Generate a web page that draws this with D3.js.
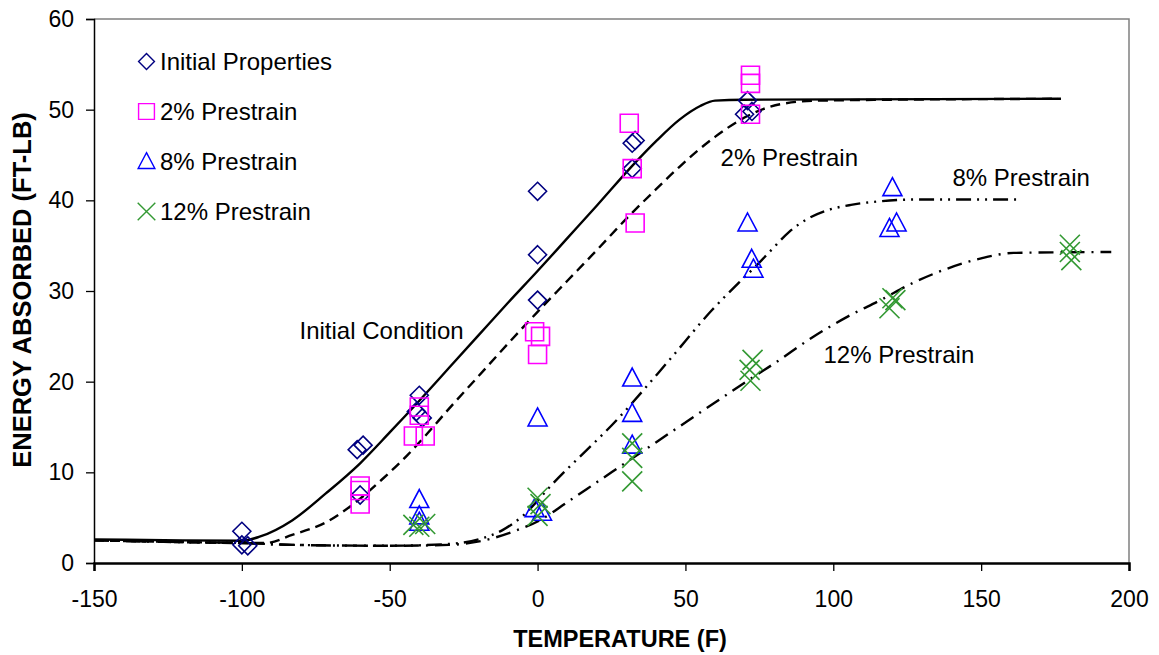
<!DOCTYPE html>
<html>
<head>
<meta charset="utf-8">
<script src="https://cdn.jsdelivr.net/npm/d3@7"></script>
<style>
  body { margin: 0; background: #fff; }
  text { font-family: Arial, "Liberation Sans", sans-serif; }
</style>
</head>
<body>
<div id="plot"></div>
<script>
// measured points, [temperature F, energy ft-lb]
const initialPts = [[-100,3.5],[-100,2.0],[-98,1.9],[-61,12.5],[-59,13.0],[-60,7.5],
  [-40,18.5],[-41,16.7],[-39,16.0],[0,41],[0,34],[0,29],[32,46.3],[33,46.6],[32,43.5],
  [71,51],[70,49.5],[72.5,49.8]];
const pre2Pts = [[-60,8.5],[-60,8.0],[-60,6.5],[-40,17.2],[-40,16.3],[-42,14],[-38,14],
  [-1,25.5],[1,25],[0,23],[31,48.5],[32,43.5],[33,37.5],[72,53.8],[72,52.9],[72,49.5]];
const pre8Pts = [[-40,7],[-40,5.2],[-40,4.5],[0,16],[-1,6],[1.5,5.6],[32,20.4],[32,16.5],
  [32,13],[71,37.5],[72.4,33.5],[73,32.4],[120,41.4],[121.4,37.5],[119,36.9]];
const pre12Pts = [[-42,4.2],[-40,4.0],[-38,4.3],[0,7.2],[1,6.5],[0,5.2],[32,13.2],[32,11.6],
  [32,9.0],[72.7,22.4],[71.7,21.3],[72,20.1],[120,29.2],[121,29],[119,28.1],
  [180,35.1],[180.5,33.4],[180,34.3]];

// fitted curves
const initialCurve = [[-150,2.6],[-120,2.5],[-100,2.45],[-94,2.9],[-83,4.7],[-71.5,7.7],
  [-60,11.0],[-50,14.4],[-40,17.9],[-30,21.5],[-20,25.1],[-10,28.7],[0,32.2],[10,35.8],
  [20,39.4],[32,43.8],[40,46.5],[48,48.9],[55,50.4],[60,51.0],[70,51.1],[176,51.2]];
const pre2Curve = [[-150,2.5],[-120,2.3],[-100,2.2],[-92,2.2],[-83,3.1],[-71.5,4.5],
  [-60,7.1],[-53,9.1],[-44,11.9],[-37.5,14.2],[-30,17.0],[-20,20.6],[-10,24.2],[0,27.7],
  [10,31.1],[20,34.5],[31,38.3],[40,41.2],[48,43.7],[60,47.0],[71,49.3],[82,50.6],
  [95,51.0],[177,51.2]];
const pre8Curve = [[-150,2.5],[-120,2.3],[-100,2.2],[-83,2.0],[-50,1.9],[-30,2.1],
  [-20,2.6],[-12,3.6],[-5,5.2],[5,8.7],[27.7,16.1],[44.6,22.4],[59,27.9],[68,30.9],
  [74,32.8],[79,34.5],[85,36.5],[91,37.9],[98,38.9],[106,39.5],[116,39.9],[129,40.1],
  [163,40.1]];
const pre12Curve = [[-150,2.5],[-120,2.3],[-100,2.2],[-83,2.0],[-50,1.9],[-30,2.0],
  [-18,2.5],[-8,3.5],[0.7,4.7],[10,6.7],[20,8.9],[30,11.1],[40,13.3],[50,15.5],[60,17.7],
  [71,20.1],[80,22.0],[93,24.9],[105,27.2],[116,29.0],[127,30.9],[138,32.4],[150,33.6],
  [161,34.2],[194,34.3]];

const xTicks = [-150,-100,-50,0,50,100,150,200];
const yTicks = [0,10,20,30,40,50,60];
const legendLabels = ["Initial Properties","2% Prestrain","8% Prestrain","12% Prestrain"];

const W = 1159, H = 655;
const margin = {top: 19, right: 30, bottom: 92, left: 94};
const width = W - margin.left - margin.right,
      height = H - margin.top - margin.bottom;

const svg = d3.select("#plot").append("svg")
  .attr("width", W).attr("height", H);
const g = svg.append("g")
  .attr("transform", `translate(${margin.left},${margin.top})`);

const x = d3.scaleLinear().domain([-150, 200]).range([0, width]);
const y = d3.scaleLinear().domain([0, 60]).range([height, 0]);

// plot area frame (top and right)
g.append("path")
  .attr("d", `M0,0H${width}V${height}`)
  .attr("fill", "none").attr("stroke", "#808080").attr("stroke-width", 1.5);

// axes
const xAxis = g.append("g").attr("transform", `translate(0,${height})`)
  .call(d3.axisBottom(x).tickValues(xTicks).tickSize(8).tickPadding(20).tickFormat(d => String(d)));
const yAxis = g.append("g")
  .call(d3.axisLeft(y).tickValues(yTicks).tickSize(8).tickPadding(12));
[xAxis, yAxis].forEach(a => {
  a.select(".domain").attr("stroke", "#000").attr("stroke-width", 1.5);
  a.selectAll(".tick line").attr("stroke", "#000").attr("stroke-width", 1.3);
  a.selectAll(".tick text").style("font-size", "23px").attr("fill", "#000")
    .style("font-family", "Arial, 'Liberation Sans', sans-serif");
});
xAxis.select(".domain").attr("stroke-width", 2.5);

// axis titles
svg.append("text")
  .attr("x", 620).attr("y", 647)
  .attr("text-anchor", "middle")
  .style("font-size", "23.5px").style("font-weight", "bold")
  .text("TEMPERATURE (F)");
svg.append("text")
  .attr("transform", "translate(31,290) rotate(-90)")
  .attr("text-anchor", "middle")
  .style("font-size", "25.5px").style("font-weight", "bold")
  .text("ENERGY ABSORBED (FT-LB)");

// curves
const line = d3.line().x(d => x(d[0])).y(d => y(d[1])).curve(d3.curveMonotoneX);
const curves = [
  {data: initialCurve, dash: null},
  {data: pre2Curve, dash: "10,6"},
  {data: pre8Curve, dash: "15,6,2,6,2,6"},
  {data: pre12Curve, dash: "15,7,2,7"}
];
g.selectAll("path.curve").data(curves).join("path")
  .attr("class", "curve")
  .attr("d", d => line(d.data))
  .attr("fill", "none").attr("stroke", "#000").attr("stroke-width", 2.4)
  .attr("stroke-dasharray", d => d.dash);

// marker shapes
const shapes = {
  diamond: "M0,-9L9,0L0,9L-9,0Z",
  square: "M-9,-9H9V9H-9Z",
  triangle: "M0,-10L9.5,8H-9.5Z",
  cross: "M-10,-10L10,10M10,-10L-10,10"
};
const series = [
  {pts: initialPts, shape: shapes.diamond, color: "#000080", label: legendLabels[0]},
  {pts: pre2Pts, shape: shapes.square, color: "#ff00ff", label: legendLabels[1]},
  {pts: pre8Pts, shape: shapes.triangle, color: "#0000ff", label: legendLabels[2]},
  {pts: pre12Pts, shape: shapes.cross, color: "#339933", label: legendLabels[3]}
];
series.forEach(s => {
  g.append("g").selectAll("path").data(s.pts).join("path")
    .attr("transform", d => `translate(${x(d[0])},${y(d[1])})`)
    .attr("d", s.shape)
    .attr("fill", "none").attr("stroke", s.color).attr("stroke-width", 1.6);
});

// legend
const legend = g.append("g").attr("transform", "translate(52.5,42.5)");
series.forEach((s, i) => {
  const row = legend.append("g").attr("transform", `translate(0,${i * 50})`);
  row.append("path").attr("d", s.shape)
    .attr("transform", "scale(0.88)")
    .attr("fill", "none").attr("stroke", s.color).attr("stroke-width", 1.6);
  row.append("text").attr("x", 13.5).attr("y", 8)
    .style("font-size", "24px").attr("fill", "#000").text(s.label);
});

// curve labels
const curveLabels = [
  {t: "Initial Condition", x: -80.5, y: 24.7},
  {t: "2% Prestrain", x: 61.9, y: 43.8},
  {t: "8% Prestrain", x: 140.3, y: 41.6},
  {t: "12% Prestrain", x: 96.7, y: 22.05}
];
g.selectAll("text.clabel").data(curveLabels).join("text")
  .attr("class", "clabel")
  .attr("x", d => x(d.x)).attr("y", d => y(d.y))
  .style("font-size", "24px").attr("fill", "#000")
  .text(d => d.t);
</script>
</body>
</html>
